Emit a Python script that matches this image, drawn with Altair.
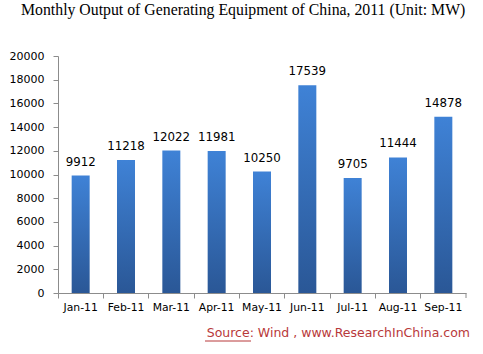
import altair as alt
import pandas as pd

months = ["Jan-11", "Feb-11", "Mar-11", "Apr-11", "May-11", "Jun-11", "Jul-11", "Aug-11", "Sep-11"]
output_mw = [9912, 11218, 12022, 11981, 10250, 17539, 9705, 11444, 14878]
y_ticks = list(range(0, 20001, 2000))
source_text = ["Source: Wind , www.ResearchInChina.com"]

df = pd.DataFrame({"month": months, "value": output_mw})
one = pd.DataFrame({"t": source_text})

W, H = 408, 237
axis_gray = "#8c8c8c"
font = "DejaVu Sans"

x_enc = alt.X("month:N", sort=months, title=None,
              scale=alt.Scale(paddingInner=0, paddingOuter=0),
              axis=alt.Axis(labelAngle=0, bandPosition=0, ticks=True, tickSize=5,
                            tickColor=axis_gray, domainColor=axis_gray,
                            labelFont=font, labelFontSize=10.8, labelColor="#000",
                            labelPadding=3, labelAlign="center"))
y_enc = alt.Y("value:Q", title=None,
              scale=alt.Scale(domain=[0, 20000], nice=False),
              axis=alt.Axis(values=y_ticks, tickCount=20, grid=False, tickSize=5, format="d",
                            labelOverlap=False,
                            tickColor=axis_gray, domainColor=axis_gray,
                            labelFont=font, labelFontSize=11, labelColor="#000",
                            labelPadding=9))

gradient = alt.Gradient(
    gradient="linear",
    stops=[alt.GradientStop(color="#3f82d6", offset=0),
           alt.GradientStop(color="#2a5796", offset=1)],
    x1=0, x2=0, y1=0, y2=1,
)

bars = alt.Chart(df).mark_bar(size=18, color=gradient).encode(x=x_enc, y=y_enc)

labels = alt.Chart(df).mark_text(baseline="bottom", dy=-8, font=font, fontSize=11.8, color="#000").encode(
    x=x_enc, y=y_enc, text=alt.Text("value:Q", format="d"))

end_tick = alt.Chart(one).mark_rule(color=axis_gray).encode(
    x=alt.value(W), y=alt.value(H), y2=alt.value(H + 5))

source = alt.Chart(one).mark_text(align="right", baseline="middle", font=font, fontSize=12.5,
                                  color="#b8393a").encode(
    x=alt.value(412), y=alt.value(277), text="t:N")

underline = alt.Chart(one).mark_rule(color="#b8393a", strokeWidth=1).encode(
    x=alt.value(147), x2=alt.value(193), y=alt.value(285))

chart = alt.layer(bars, labels, end_tick, source, underline).properties(
    width=W, height=H,
    title=alt.TitleParams("Monthly Output of Generating Equipment of China, 2011 (Unit: MW)",
                          font="Liberation Serif", fontSize=15.8, fontWeight="normal",
                          color="#000", anchor="start", dx=12, offset=31),
    autosize=alt.AutoSizeParams(type="none"),
    padding={"left": 58, "top": 56, "right": 17, "bottom": 61},
).configure_view(stroke=None)

chart.save("out.html", embed_options={"renderer": "svg", "actions": False})
